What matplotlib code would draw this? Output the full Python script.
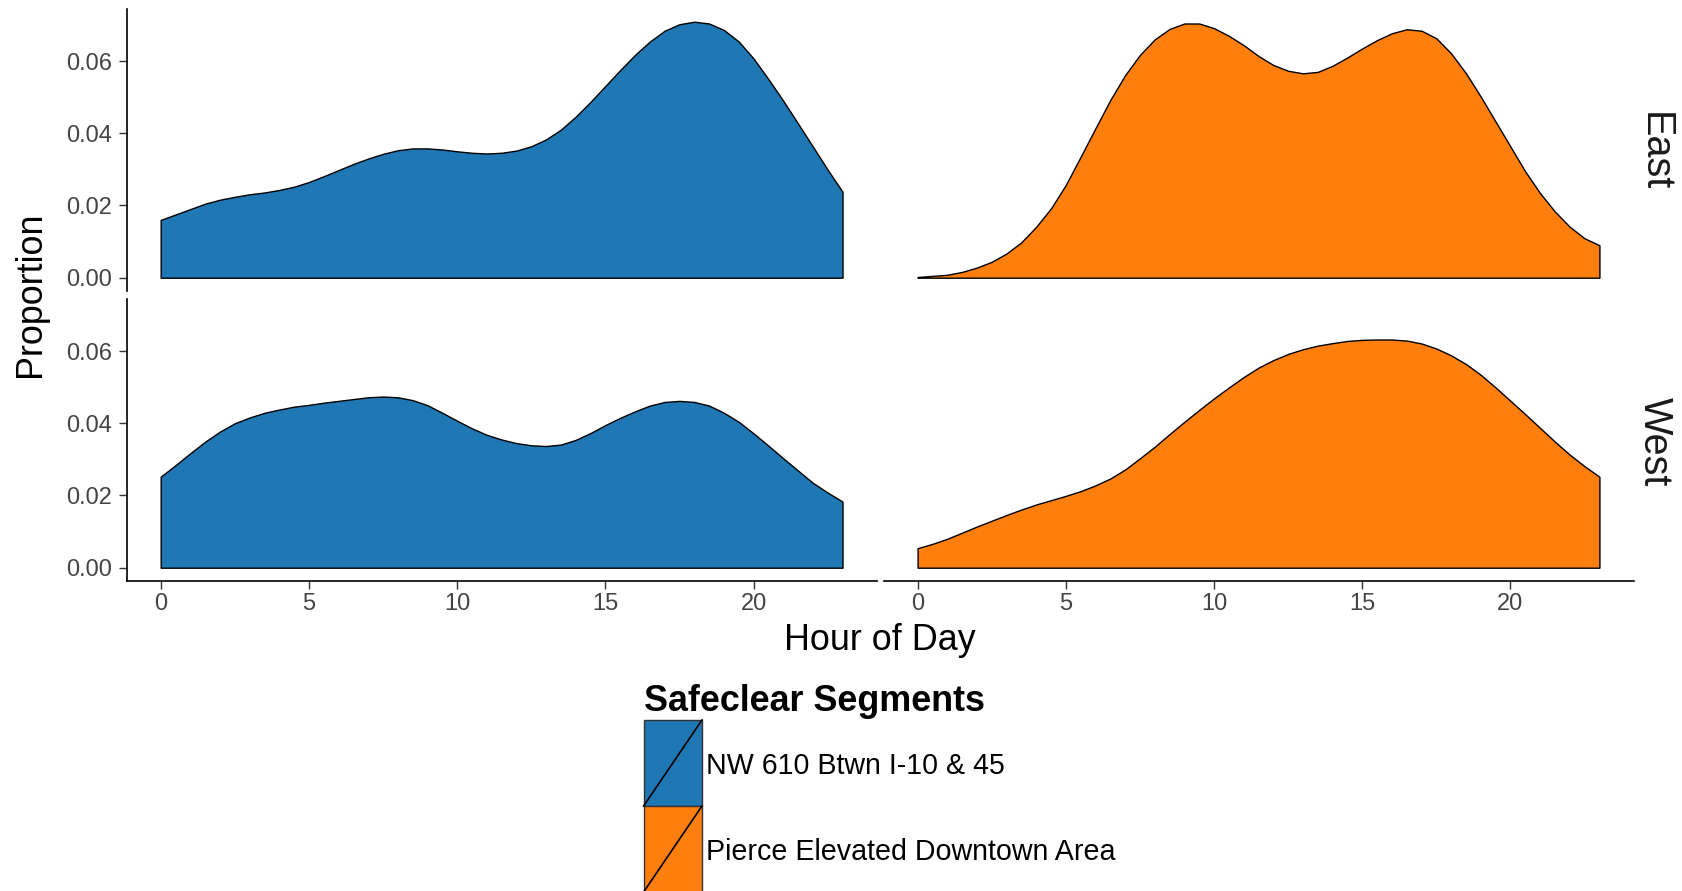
import numpy as np
import matplotlib
matplotlib.use("Agg")
import matplotlib.pyplot as plt
from matplotlib.patches import Rectangle
from matplotlib.lines import Line2D

plt.rcParams['font.family'] = ['Liberation Sans', 'DejaVu Sans']

# ---------------- data ----------------
segments = ["NW 610 Btwn I-10 & 45", "Pierce Elevated Downtown Area"]
directions = ["East", "West"]
colors = ["#1F77B4", "#FF7F0E"]

hours = [0, 0.5, 1, 1.5, 2, 2.5, 3, 3.5, 4, 4.5, 5, 5.5, 6, 6.5, 7, 7.5,
         8, 8.5, 9, 9.5, 10, 10.5, 11, 11.5, 12, 12.5, 13, 13.5, 14, 14.5,
         15, 15.5, 16, 16.5, 17, 17.5, 18, 18.5, 19, 19.5, 20, 20.5, 21,
         21.5, 22, 22.5, 23]

nw610_east = [0.0160, 0.0175, 0.0190, 0.0205, 0.0216, 0.0224, 0.0231, 0.0236,
              0.0243, 0.0252, 0.0265, 0.0281, 0.0298, 0.0315, 0.0330, 0.0343,
              0.0353, 0.0358, 0.0358, 0.0355, 0.0350, 0.0346, 0.0344, 0.0346,
              0.0352, 0.0364, 0.0383, 0.0410, 0.0446, 0.0487, 0.0531, 0.0575,
              0.0617, 0.0654, 0.0684, 0.0702, 0.0709, 0.0704, 0.0686, 0.0654,
              0.0607, 0.0550, 0.0490, 0.0427, 0.0363, 0.0299, 0.0238]

pierce_east = [0.0002, 0.0005, 0.0008, 0.0016, 0.0028, 0.0044, 0.0067, 0.0098,
               0.0141, 0.0192, 0.0257, 0.0335, 0.0414, 0.0492, 0.0561, 0.0617,
               0.0660, 0.0689, 0.0704, 0.0704, 0.0691, 0.0670, 0.0644, 0.0614,
               0.0589, 0.0573, 0.0566, 0.0570, 0.0587, 0.0610, 0.0635, 0.0658,
               0.0677, 0.0688, 0.0684, 0.0663, 0.0621, 0.0566, 0.0501, 0.0432,
               0.0363, 0.0294, 0.0234, 0.0183, 0.0141, 0.0109, 0.0090]

nw610_west = [0.0252, 0.0284, 0.0317, 0.0349, 0.0377, 0.0400, 0.0416, 0.0429,
              0.0438, 0.0446, 0.0451, 0.0457, 0.0462, 0.0467, 0.0472, 0.0474,
              0.0472, 0.0464, 0.0450, 0.0429, 0.0407, 0.0386, 0.0368, 0.0355,
              0.0345, 0.0339, 0.0337, 0.0341, 0.0354, 0.0373, 0.0395, 0.0415,
              0.0433, 0.0449, 0.0459, 0.0462, 0.0459, 0.0449, 0.0429, 0.0404,
              0.0372, 0.0338, 0.0303, 0.0269, 0.0235, 0.0208, 0.0183]

pierce_west = [0.0054, 0.0066, 0.0080, 0.0097, 0.0114, 0.0130, 0.0146, 0.0161,
               0.0175, 0.0187, 0.0199, 0.0212, 0.0228, 0.0247, 0.0272, 0.0303,
               0.0335, 0.0370, 0.0404, 0.0437, 0.0469, 0.0499, 0.0528, 0.0554,
               0.0575, 0.0592, 0.0605, 0.0615, 0.0622, 0.0628, 0.0631, 0.0632,
               0.0632, 0.0629, 0.0621, 0.0607, 0.0588, 0.0564, 0.0534, 0.0499,
               0.0462, 0.0425, 0.0387, 0.0349, 0.0313, 0.0281, 0.0252]

panel_data = {("East", 0): nw610_east, ("East", 1): pierce_east,
              ("West", 0): nw610_west, ("West", 1): pierce_west}

y_ticks = [0.00, 0.02, 0.04, 0.06]
x_ticks = [0, 5, 10, 15, 20]

# ---------------- layout ----------------
W, H = 1682, 891
fig = plt.figure(figsize=(W / 100, H / 100), dpi=100)


def rect(x0, y0, x1, y1):
    return [x0 / W, 1 - y1 / H, (x1 - x0) / W, (y1 - y0) / H]


col_x = [(126.6, 876.6), (883.5, 1633.5)]
row_y = [(8.9, 290.5), (298.9, 580.5)]
strip_y = [152, 442]

xmin, xmax = min(hours), max(hours)
xpad = 0.05 * (xmax - xmin)
ymax = max(max(v) for v in panel_data.values())
ypad = 0.05 * ymax

tick_color = "#333333"
label_color = "#444444"

for r, d in enumerate(directions):
    for c, seg in enumerate(segments):
        ax = fig.add_axes(rect(col_x[c][0], row_y[r][0], col_x[c][1], row_y[r][1]))
        vals = panel_data[(d, c)]
        ax.fill_between(hours, 0, vals, facecolor=colors[c], edgecolor="black",
                        linewidth=1.0, joinstyle="round")
        ax.set_xlim(xmin - xpad, xmax + xpad)
        ax.set_ylim(-ypad, ymax + ypad)
        ax.patch.set_visible(False)
        for s in ["top", "right"]:
            ax.spines[s].set_visible(False)
        ax.spines["left"].set_visible(c == 0)
        ax.spines["bottom"].set_visible(r == 1)
        for s in ["left", "bottom"]:
            ax.spines[s].set_linewidth(1.2)
            ax.spines[s].set_color("black")
        if c == 0:
            ax.set_yticks(y_ticks)
            ax.set_yticklabels([f"{t:.2f}" for t in y_ticks])
            ax.tick_params(axis="y", length=5.5, width=1.0, color=tick_color,
                           labelsize=17, labelcolor=label_color, pad=5)
        else:
            ax.set_yticks([])
        if r == 1:
            ax.set_xticks(x_ticks)
            ax.set_xticklabels([str(t) for t in x_ticks])
            ax.tick_params(axis="x", length=5.5, width=1.0, color=tick_color,
                           labelsize=17, labelcolor=label_color, pad=3.5)
        else:
            ax.set_xticks([])
        if c == 1:
            fig.text(1655 / W, 1 - strip_y[r] / H, d,
                     rotation=-90, ha="center", va="center", fontsize=28.5,
                     color="#1A1A1A")

# axis titles
fig.text(880 / W, 1 - 650 / H, "Hour of Day", ha="center", va="baseline",
         fontsize=25.8, color="black")
fig.text(31 / W, 1 - 294.7 / H, "Proportion", rotation=90, ha="center",
         va="center", fontsize=25.8, color="black")

# ---------------- legend ----------------
lg = fig.add_axes([0, 0, 1, 1])
lg.set_xlim(0, W)
lg.set_ylim(H, 0)
lg.axis("off")
lg.patch.set_visible(False)

lg.text(643.6, 711, "Safeclear Segments", fontsize=25.8, fontweight="bold",
        ha="left", va="baseline", color="black")
key_x, key_w, key_h = 643.6, 58.4, 86
for i, seg in enumerate(segments):
    ky = 720 + i * key_h
    lg.add_patch(Rectangle((key_x, ky), key_w, key_h, facecolor=colors[i],
                           edgecolor="#333333", linewidth=1.0))
    lg.add_line(Line2D([key_x, key_x + key_w], [ky + key_h, ky], color="black",
                       linewidth=1.2))
    lg.text(706, ky + 54, seg, fontsize=20.6, ha="left", va="baseline",
            color="black")

fig.savefig("out.png", dpi=100)
